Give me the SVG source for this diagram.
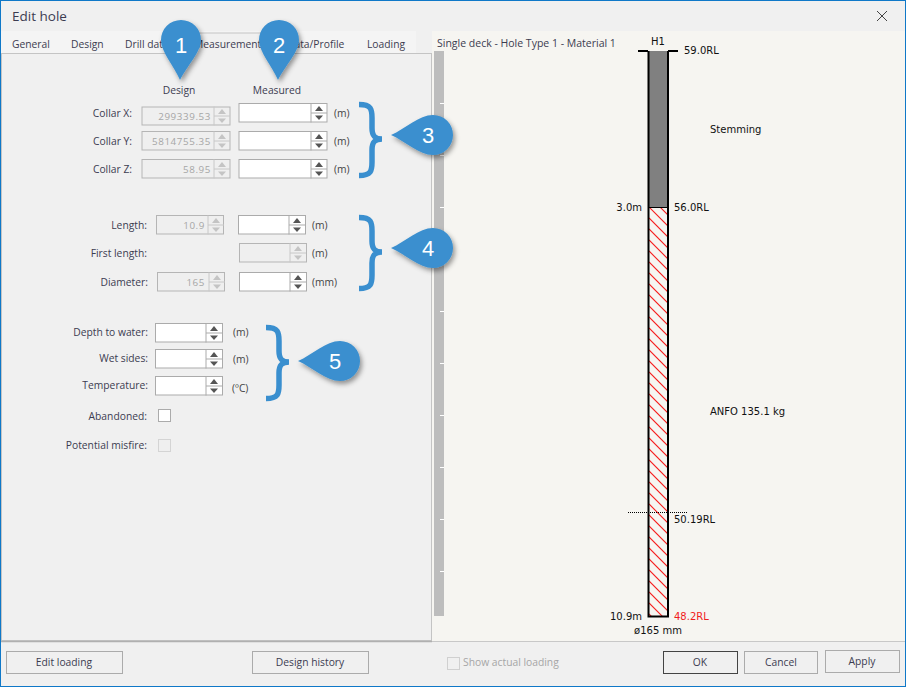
<svg xmlns="http://www.w3.org/2000/svg" width="906" height="687" viewBox="0 0 906 687">
<style>
text{font-family:"Open Sans","Liberation Sans",sans-serif;font-size:10.3px;fill:#3c3c50}
.r{text-anchor:end}.m{text-anchor:middle}
.dis{fill:#a6a6a6}
.dg{font-size:9.8px;letter-spacing:.6px}
.w{font-size:10.5px}
.u{fill:#444}
.d{font-family:"DejaVu Sans",sans-serif;font-size:10px;fill:#111}
.box{fill:#fff;stroke:#ababab;stroke-width:1}
.boxd{fill:#efefef;stroke:#b5b5b5;stroke-width:1}
.btn{fill:#f0f0f0;stroke:#ababab;stroke-width:1}
.num{font-family:"Liberation Sans",sans-serif;font-size:22px;fill:#fff;text-anchor:middle}
.pin{fill:#3a8fcf;filter:url(#sh)}
.brace{fill:none;stroke:#3a8fcf;stroke-width:5.5}
.tick{stroke:#fff;stroke-width:1}
</style>
<defs>
<filter id="sh" x="-30%" y="-30%" width="170%" height="170%"><feDropShadow dx="2" dy="3" stdDeviation="2.5" flood-color="#000" flood-opacity="0.4"/></filter>
<clipPath id="holeclip"><rect x="649" y="207" width="19" height="409"/></clipPath>
<g id="up"><path d="M-4 2.500L0 -2.500L4 2.500Z"/></g>
<g id="dn"><path d="M-4 -2L0 2.500L4 -2Z"/></g>
<g id="spin"><path d="M0 .5V19.5M0 10H16" stroke="#ababab" fill="none"/><use href="#up" x="8" y="5.500" fill="#555"/><use href="#dn" x="8" y="14.500" fill="#555"/></g>
<g id="spind"><path d="M0 .5V19.5M0 10H16" stroke="#c8c8c8" fill="none"/><use href="#up" x="8" y="5.500" fill="#c4c4c4"/><use href="#dn" x="8" y="14.500" fill="#c4c4c4"/></g>
</defs>

<rect id="window" x="0.5" y="0.5" width="905" height="686" fill="#f0f0f0" stroke="#0f78c8"/>
<rect x="432" y="31" width="473" height="610" fill="#f6f5f1"/>
<text x="12" y="21" style="font-size:13.5px" fill="#333">Edit hole</text>
<path d="M877 11L887 21M887 11L877 21" stroke="#444" stroke-width="1" fill="none"/>

<g id="tabs">
<rect x="1" y="31" width="415" height="22" fill="#f4f4f4"/>
<path d="M195 53V33H290V53" fill="#f0f0f0" stroke="#c4c4c4"/>
<rect x="1.500" y="53.500" width="430" height="587" fill="#f0f0f0" stroke="#c4c4c4"/>
<rect x="196" y="50" width="93" height="5" fill="#f0f0f0"/>
<text x="12" y="48">General</text><text x="71" y="48">Design</text><text x="125" y="48">Drill data</text>
<text x="194" y="48">Measurements</text><text x="287" y="48">Data/Profile</text><text x="367" y="48">Loading</text>
</g>
<text class="w" x="437" y="47">Single deck - Hole Type 1 - Material 1</text>

<g id="ruler">
<rect x="434" y="51" width="10" height="565" fill="#bdbdbd"/>
<path class="tick" d="M440 103.500H444M440 155.500H444M440 207.500H444M440 259.500H444M440 311.500H444M440 363.500H444M440 415.500H444M440 467.500H444M440 519.500H444M440 571.500H444"/>
</g>

<g id="form">
<text class="m" x="179" y="94">Design</text><text class="m" x="277" y="94">Measured</text>

<text class="r" x="132" y="117">Collar X:</text>
<rect class="boxd" x="142" y="107" width="88" height="18"/><use href="#spind" x="214" y="106"/><text class="r dis dg" x="211" y="120">299339.53</text>
<rect class="box" x="239" y="103.500" width="88" height="18.500"/><use href="#spin" x="311" y="103"/><text class="u" x="334" y="117">(m)</text>

<text class="r" x="132" y="145">Collar Y:</text>
<rect class="boxd" x="142" y="131.500" width="88" height="18.500"/><use href="#spind" x="214" y="131"/><text class="r dis dg" x="211" y="145">5814755.35</text>
<rect class="box" x="239" y="131.500" width="88" height="18.500"/><use href="#spin" x="311" y="131"/><text class="u" x="334" y="145">(m)</text>

<text class="r" x="132" y="173">Collar Z:</text>
<rect class="boxd" x="142" y="159.500" width="88" height="18.500"/><use href="#spind" x="214" y="159"/><text class="r dis dg" x="211" y="173">58.95</text>
<rect class="box" x="239" y="159.500" width="88" height="18.500"/><use href="#spin" x="311" y="159"/><text class="u" x="334" y="173">(m)</text>

<text class="r" x="147" y="229">Length:</text>
<rect class="boxd" x="156.500" y="215.500" width="67" height="18.500"/><use href="#spind" x="208" y="215"/><text class="r dis dg" x="205" y="229">10.9</text>
<rect class="box" x="238.500" y="215.500" width="67" height="18.500"/><use href="#spin" x="289" y="215"/><text class="u" x="312" y="229">(m)</text>

<text class="r" x="147" y="257">First length:</text>
<rect class="boxd" x="239.500" y="243.500" width="67" height="18.500"/><use href="#spind" x="290" y="243"/><text class="u" x="312" y="257">(m)</text>

<text class="r" x="148" y="286">Diameter:</text>
<rect class="boxd" x="157.500" y="272.500" width="67" height="18.500"/><use href="#spind" x="209" y="272"/><text class="r dis dg" x="205" y="286">165</text>
<rect class="box" x="239.500" y="272.500" width="67" height="18.500"/><use href="#spin" x="290" y="272"/><text class="u" x="312" y="286">(mm)</text>

<text class="r" x="148" y="336">Depth to water:</text>
<rect class="box" x="155.500" y="323.500" width="67" height="18.500"/><use href="#spin" x="206" y="323"/><text class="u" x="233" y="336">(m)</text>
<text class="r" x="148" y="362">Wet sides:</text>
<rect class="box" x="155.500" y="349.500" width="67" height="18.500"/><use href="#spin" x="206" y="349"/><text class="u" x="233" y="363">(m)</text>
<text class="r" x="148" y="389">Temperature:</text>
<rect class="box" x="155.500" y="376.500" width="67" height="18.500"/><use href="#spin" x="206" y="376"/><text class="u" x="232" y="392">(ºC)</text>

<text class="r" x="147" y="420">Abandoned:</text>
<rect class="box" x="158.500" y="409.500" width="12" height="12"/>
<text class="r" x="147" y="449">Potential misfire:</text>
<rect x="158.500" y="439.500" width="12" height="12" fill="#efefef" stroke="#d4d4d4"/>
</g>

<g id="hole">
<rect x="649" y="51" width="19" height="156" fill="#808080"/>
<path clip-path="url(#holeclip)" fill="none" stroke="#f62020" stroke-width="1.100" d="M649 196l19 19M649 207l19 19M649 218l19 19M649 229l19 19M649 240l19 19M649 251l19 19M649 262l19 19M649 273l19 19M649 284l19 19M649 295l19 19M649 306l19 19M649 317l19 19M649 328l19 19M649 339l19 19M649 350l19 19M649 361l19 19M649 372l19 19M649 383l19 19M649 394l19 19M649 405l19 19M649 416l19 19M649 427l19 19M649 438l19 19M649 449l19 19M649 460l19 19M649 471l19 19M649 482l19 19M649 493l19 19M649 504l19 19M649 515l19 19M649 526l19 19M649 537l19 19M649 548l19 19M649 559l19 19M649 570l19 19M649 581l19 19M649 592l19 19M649 603l19 19M649 614l19 19"/>
<path d="M648.500 51V616.500H668V51" fill="none" stroke="#000" stroke-width="2"/>
<path d="M638 51H648M668 51H678" stroke="#000" stroke-width="2" fill="none"/>
<path d="M649 207.500H668" stroke="#000" fill="none"/>
<path d="M628 512.500H687" stroke="#000" stroke-dasharray="1 1" fill="none"/>
<text class="d m" x="658" y="45">H1</text>
<text class="d" x="684" y="54">59.0RL</text>
<text class="d" x="710" y="133">Stemming</text>
<text class="d r" x="642" y="211">3.0m</text>
<text class="d" x="674" y="211">56.0RL</text>
<text class="d" x="710" y="415">ANFO 135.1 kg</text>
<text class="d" x="674" y="523">50.19RL</text>
<text class="d r" x="642" y="620">10.9m</text>
<text class="d" x="674" y="620" style="fill:#f01c1c">48.2RL</text>
<text class="d m" x="658" y="634">ø165 mm</text>
</g>

<g id="footer">
<path d="M1 641.500H432" stroke="#b0b0b0" stroke-width="1.500" fill="none"/>
<path d="M432 641.500H905" stroke="#c8c8c8" fill="none"/>
<rect class="btn" x="6.500" y="651.500" width="116" height="22"/><text class="m" x="64" y="666">Edit loading</text>
<rect class="btn" x="252.500" y="651.500" width="116" height="22"/><text class="m" x="310" y="666">Design history</text>
<rect x="447.500" y="657.500" width="12" height="12" fill="#f0f0f0" stroke="#d0d0d0"/><text class="dis" x="463" y="666">Show actual loading</text>
<rect class="btn" x="663.500" y="651.500" width="74" height="22" style="stroke:#444"/><text class="m" x="700" y="666">OK</text>
<rect class="btn" x="744.500" y="651.500" width="73" height="22"/><text class="m" x="781" y="666">Cancel</text>
<rect class="btn" x="825.500" y="650.500" width="74" height="22"/><text class="m" x="862" y="665">Apply</text>
</g>

<g id="braces">
<path class="brace" d="M359 104.500C371 104.500 372 109 372 118V128C372 136 375 139 382 139C375 139 372 142 372 150V162C372 171 371 175.500 359 175.500"/>
<path class="brace" d="M359 217.500C371 217.500 372 222 372 231V241C372 249 375 252 382 252C375 252 372 255 372 263V275C372 284 371 288.500 359 288.500"/>
<path class="brace" d="M266 327.500C278 327.500 279 332 279 341V351C279 359 282 362 289 362C282 362 279 365 279 373V385C279 394 278 398.500 266 398.500"/>
</g>

<g id="callout1"><path class="pin" d="M180 80C174 66 161 52 161 40A20 20 0 0 1 201 40C201 52 187 66 180 80Z"/><text class="num" x="181" y="53">1</text></g>
<g id="callout2"><path class="pin" d="M278 80C272 66 259 52 259 40A20 20 0 0 1 299 40C299 52 285 66 278 80Z"/><text class="num" x="279" y="53">2</text></g>
<g id="callout3"><path class="pin" d="M391 135C405 129 419 115 433 115A20 20 0 0 1 433 155C419 155 405 141 391 135Z"/><text class="num" x="428" y="143">3</text></g>
<g id="callout4"><path class="pin" d="M391 248C405 242 419 228 433 228A20 20 0 0 1 433 268C419 268 405 254 391 248Z"/><text class="num" x="428" y="256">4</text></g>
<g id="callout5"><path class="pin" d="M298 361C312 355 326 341 340 341A20 20 0 0 1 340 381C326 381 312 367 298 361Z"/><text class="num" x="335" y="369">5</text></g>
</svg>
